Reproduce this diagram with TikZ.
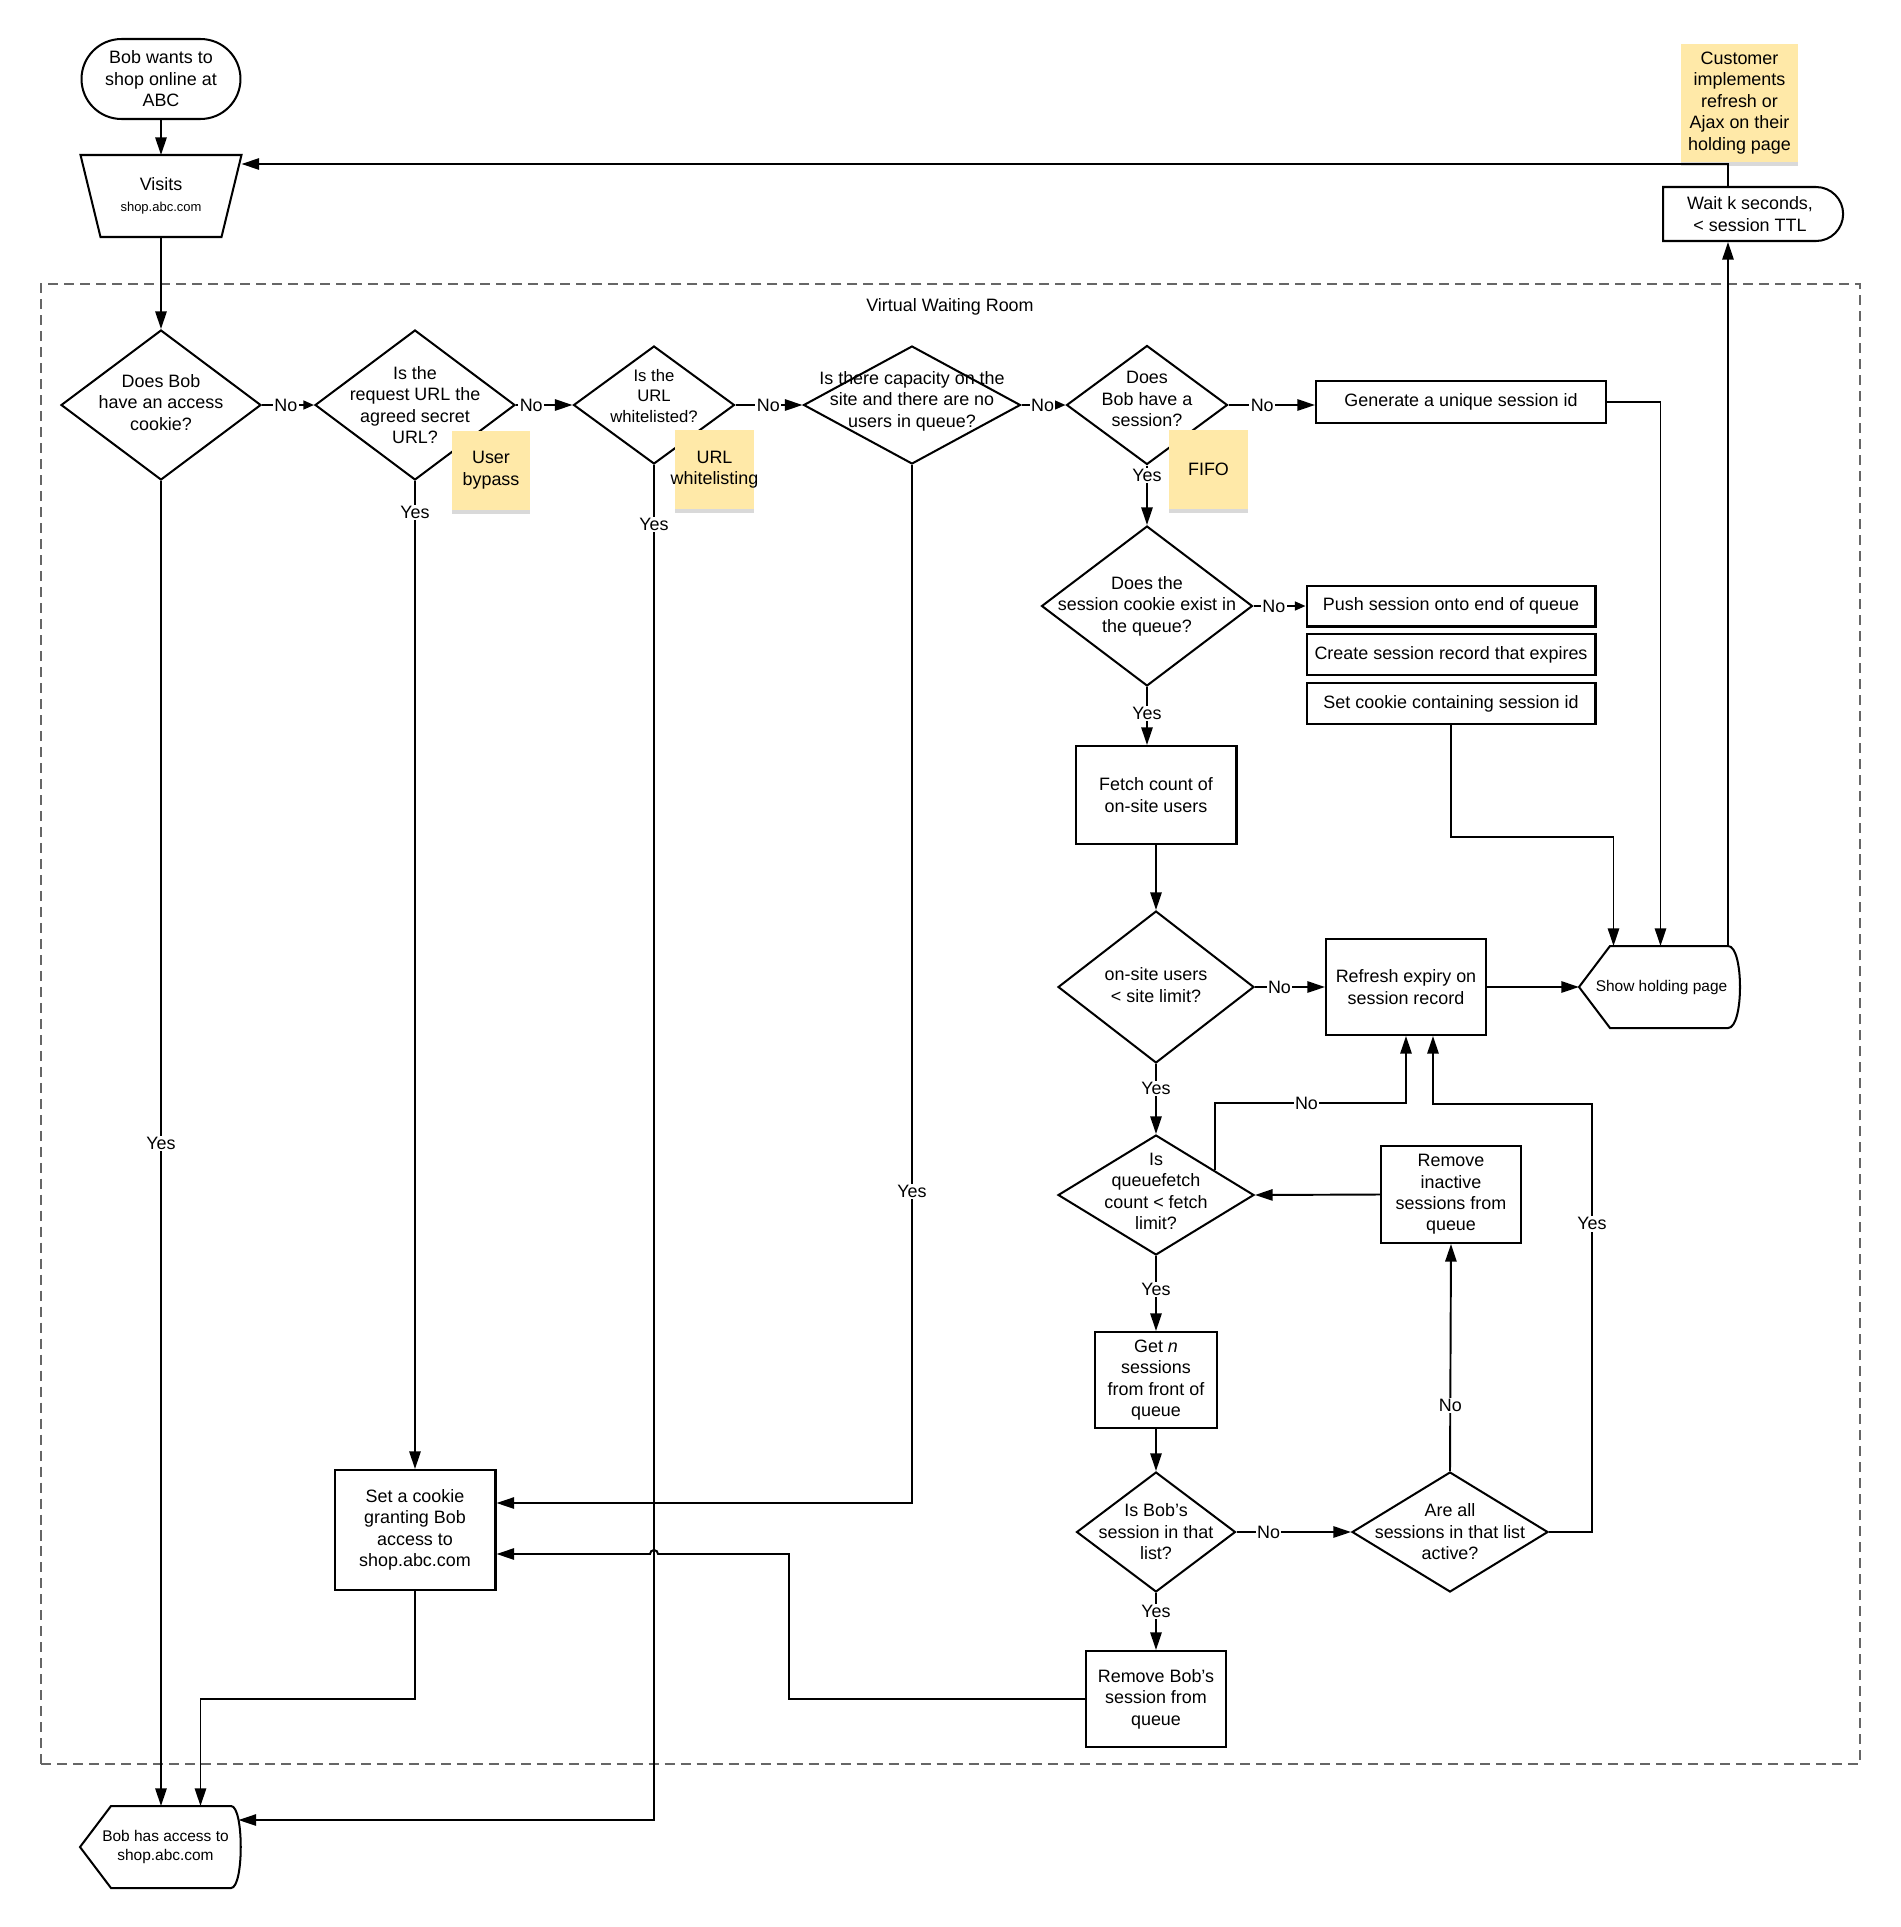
\documentclass[tikz,border=0pt]{standalone}
\usepackage{fontspec}
\setmainfont{Liberation Sans}
\usetikzlibrary{arrows.meta,shapes.geometric,shapes.misc,shadows}
\definecolor{notefill}{HTML}{FFE9A8}
\tikzstyle{base}=[
	font=\fontsize{10.2}{12.2}\selectfont,
	align=center,
	inner sep=0pt,
	line width=1.15pt
]
\tikzstyle{process}=[base, rectangle, draw]
\tikzstyle{terminal}=[base, rounded rectangle, draw]
\tikzstyle{decision}=[diamond, draw, inner sep=0pt, line width=1.15pt]
\tikzstyle{question}=[base]
\tikzstyle{display}=[base, font=\fontsize{8.8}{10.6}\selectfont, minimum height=1.6cm]
\tikzstyle{sticky}=[
	base,
	fill=notefill,
	drop shadow={shadow xshift=0pt, shadow yshift=-2.5pt, fill=black, opacity=0.15}
]
\tikzstyle{flow}=[
	->,
	>={Triangle[length=10pt,width=6.4pt]},
	line width=1.1pt
]
\tikzstyle{shortflow}=[flow, >={Triangle[length=6pt,width=5pt]}]
\tikzstyle{answer}=[base, fill=white, inner sep=0.8pt]

\begin{document}
\begin{tikzpicture}[x=0.02cm, y=-0.02cm]
\useasboundingbox (0,0) rectangle (1900,1927);

% waiting room frame
\node [draw=black!60, dash pattern=on 5.7pt off 3.4pt, line width=0.9pt, minimum width=36.38cm, minimum height=29.6cm, inner sep=0pt] (Room) at (950.5,1024) {};
\node [base] (RoomTitle) at (950,307) {Virtual Waiting Room};

% entry
\node [terminal, minimum width=3.18cm, minimum height=1.6cm] (BobWants) at (161,79) {Bob wants to\\shop online at\\ABC};
\node [base, minimum width=3.18cm, minimum height=1.6cm] (Visits) at (161,196) {Visits\\{\fontsize{7.4}{8.9}\selectfont shop.abc.com}};
\draw [line width=1.15pt] (Visits.north west) -- (Visits.north east) -- ([xshift=-0.4cm]Visits.south east) -- ([xshift=0.4cm]Visits.south west) -- cycle;

% first row of checks
\node [decision, minimum width=4cm, minimum height=3cm, label={[question, yshift=0.05cm]center:{Does Bob\\have an access\\cookie?}}] (HasCookie) at (161,405) {};
\node [decision, minimum width=4cm, minimum height=3cm, label={[question]center:{Is the\\request URL the\\agreed secret\\URL?}}] (SecretURL) at (415,405) {};
\node [decision, minimum width=3.22cm, minimum height=2.36cm, label={[question, yshift=0.18cm, font=\fontsize{9.5}{11.4}\selectfont]center:{Is the\\URL\\whitelisted?}}] (Whitelisted) at (654,405) {};
\node [decision, minimum width=4.34cm, minimum height=2.36cm, label={[question, yshift=0.08cm]center:{Is there capacity on the\\site and there are no\\users in queue?}}] (Capacity) at (912,405) {};
\node [decision, minimum width=3.22cm, minimum height=2.38cm, label={[question, yshift=0.12cm]center:{Does\\Bob have a\\session?}}] (HasSession) at (1147,405) {};
\node [process, minimum width=5.8cm, minimum height=0.84cm] (GenerateId) at (1461,402) {Generate a unique session id};

% queue
\node [decision, minimum width=4.22cm, minimum height=3.2cm, label={[question]center:{Does the\\session cookie exist in\\the queue?}}] (InQueue) at (1147,606) {};
\node [process, minimum width=5.78cm, minimum height=0.82cm] (PushSession) at (1451,606) {Push session onto end of queue};
\node [process, minimum width=5.78cm, minimum height=0.82cm] (CreateRecord) at (1451,654.5) {Create session record that expires};
\node [process, minimum width=5.78cm, minimum height=0.82cm] (SetSessionCookie) at (1451,703.5) {Set cookie containing session id};
\node [process, minimum width=3.22cm, minimum height=1.96cm] (FetchCount) at (1156,795) {Fetch count of\\on-site users};
\node [decision, minimum width=3.92cm, minimum height=3.04cm, label={[question, yshift=0.04cm]center:{on-site users\\< site limit?}}] (UnderLimit) at (1156,987) {};
\node [process, minimum width=3.2cm, minimum height=1.92cm] (RefreshExpiry) at (1406,987) {Refresh expiry on\\session record};
\node [display, minimum width=2.94cm, label={[display, xshift=0.16cm]center:{Show holding page}}] (HoldingPage) at (1653.5,987) {};
\draw [line width=1.15pt] (HoldingPage.west) -- ([xshift=0.62cm]HoldingPage.north west) -- (HoldingPage.north east) .. controls +(16,0) and +(16,0) .. (HoldingPage.south east) -- ([xshift=0.62cm]HoldingPage.south west) -- cycle;
\node [terminal, rounded rectangle west arc=none, minimum width=3.6cm, minimum height=1.08cm] (WaitTTL) at (1750,214) {Wait k seconds,\\< session TTL};
\node [decision, minimum width=3.92cm, minimum height=2.4cm, label={[question, yshift=0.07cm]center:{Is\\queuefetch\\count < fetch\\limit?}}] (UnderFetchLimit) at (1156,1195) {};
\node [process, minimum width=2.8cm, minimum height=1.94cm] (RemoveInactive) at (1451,1194.5) {Remove\\inactive\\sessions from\\queue};
\node [process, minimum width=2.44cm, minimum height=1.92cm] (GetSessions) at (1156,1380) {Get \emph{n}\\sessions\\from front of\\queue};
\node [decision, minimum width=3.18cm, minimum height=2.4cm, label={[question]center:{Is Bob's\\session in that\\list?}}] (InList) at (1156,1532) {};
\node [decision, minimum width=3.92cm, minimum height=2.4cm, label={[question]center:{Are all\\sessions in that list\\active?}}] (AllActive) at (1450,1532) {};
\node [process, minimum width=2.8cm, minimum height=1.92cm] (RemoveBob) at (1156,1699) {Remove Bob's\\session from\\queue};

% access
\node [process, minimum width=3.22cm, minimum height=2.4cm] (SetAccessCookie) at (415,1530) {Set a cookie\\granting Bob\\access to\\shop.abc.com};
\node [display, minimum width=2.98cm, label={[display, xshift=0.2cm]center:{Bob has access to\\shop.abc.com}}] (HasAccess) at (155.5,1847) {};
\draw [line width=1.15pt] (HasAccess.west) -- ([xshift=0.62cm]HasAccess.north west) -- (HasAccess.north east) .. controls +(13,0) and +(13,0) .. (HasAccess.south east) -- ([xshift=0.62cm]HasAccess.south west) -- cycle;
\coordinate (CookieHigh) at ([yshift=0.54cm]SetAccessCookie.east);
\coordinate (CookieLow) at ([yshift=-0.48cm]SetAccessCookie.east);

% connectors
\draw [flow] (BobWants.south) -- (Visits.north);
\draw [flow] (Visits.south) -- (HasCookie.north);
\draw [shortflow] (HasCookie.east) -- node[answer, pos=.46] {No} (SecretURL.west);
\draw [flow] (SecretURL.east) -- node[answer, pos=.27] {No} (Whitelisted.west);
\draw [flow] (Whitelisted.east) -- node[answer, pos=.49] {No} (Capacity.west);
\draw [shortflow] (Capacity.east) -- node[answer, pos=.48] {No} (HasSession.west);
\draw [flow] (HasSession.east) -- node[answer, pos=.39] {No} (HasSession.east -| GenerateId.west);
\draw [flow] (HasSession.south) -- node[answer, pos=.17] {Yes} (InQueue.north);
\draw [shortflow] (InQueue.east) -- node[answer, pos=.39] {No} (PushSession.west);
\draw [flow] (InQueue.south) -- node[answer, pos=.46] {Yes} (InQueue.south |- FetchCount.north);
\draw [flow] (FetchCount.south) -- (UnderLimit.north);
\draw [flow] (UnderLimit.east) -- node[answer, pos=.35] {No} (RefreshExpiry.west);
\draw [flow] (RefreshExpiry.east) -- (HoldingPage.west);
\draw [flow] (UnderLimit.south) -- node[answer, pos=.35] {Yes} (UnderFetchLimit.north);
\draw [flow] (UnderFetchLimit.23) -- ++(0,-67) -| node[answer, pos=.24] {No} (RefreshExpiry.south);
\draw [flow] (RemoveInactive.west) -- (UnderFetchLimit.east);
\draw [flow] (UnderFetchLimit.south) -- node[answer, pos=.45] {Yes} (GetSessions.north);
\draw [flow] (GetSessions.south) -- (InList.north);
\draw [flow] (InList.east) -- node[answer, pos=.28] {No} (AllActive.west);
\draw [flow] (AllActive.north) -- node[answer, pos=.29] {No} (RemoveInactive.south);
\draw [flow] (AllActive.east) -- ++(43,0) -- node[answer, pos=.72] {Yes} ++(0,-428) -| ([xshift=0.54cm]RefreshExpiry.south);
\draw [flow] (InList.south) -- node[answer, pos=.32] {Yes} (RemoveBob.north);
\draw [flow] (RemoveBob.west) -- ++(-296,0) |- ([xshift=0.08cm]Whitelisted.south |- CookieLow) arc[start angle=0, end angle=180, radius=0.08cm] -- (CookieLow);
\draw [flow] (Capacity.south) |- node[answer, pos=.35] {Yes} (CookieHigh);
\draw [flow] (SecretURL.south) -- node[answer, pos=.032] {Yes} (SetAccessCookie.north);
\draw [flow] (SetAccessCookie.south) -- ++(0,108) -| ([xshift=0.9cm]HasAccess.north);
\draw [flow] (HasCookie.south) -- node[answer] {Yes} (HasCookie.south |- HasAccess.north);
\draw [flow] (Whitelisted.south) |- node[answer, pos=.022] {Yes} ([xshift=0.15cm, yshift=0.54cm]HasAccess.east);
\draw [flow] (GenerateId.east) -| ([xshift=0.14cm]HoldingPage.north);
\draw [flow] (SetSessionCookie.south) -- ++(0,112) -| ([xshift=-0.8cm]HoldingPage.north);
\draw [flow] (HoldingPage.north east) -- (HoldingPage.north east |- WaitTTL.south);
\draw [flow] (HoldingPage.north east |- WaitTTL.north) |- ([yshift=-0.18cm]Visits.north east);

% sticky notes
\node [sticky, minimum width=1.56cm, minimum height=1.58cm] (NoteBypass) at (491,470) {User\\bypass};
\node [sticky, minimum width=1.58cm, minimum height=1.58cm] (NoteWhitelist) at (714.5,469.5) {URL\\\makebox[0pt]{whitelisting}};
\node [sticky, minimum width=1.58cm, minimum height=1.58cm] (NoteFIFO) at (1208.5,469.5) {FIFO};
\node [sticky, minimum width=2.34cm, minimum height=2.36cm] (NoteRefresh) at (1739.5,103) {Customer\\implements\\refresh or\\Ajax on their\\holding page};
\end{tikzpicture}
\end{document}
